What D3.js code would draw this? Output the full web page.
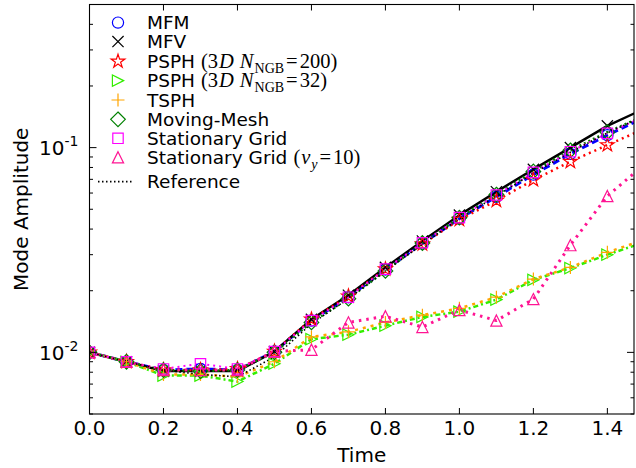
<!DOCTYPE html>
<html><head><meta charset="utf-8">
<script src="https://cdn.jsdelivr.net/npm/d3@7"></script>
<style>body{margin:0;background:#fff}svg{display:block}</style>
</head><body><svg id="c" width="636" height="468"></svg>
<script>
// ---- data ----
const times = [0.0,0.1,0.2,0.3,0.4,0.5,0.6,0.7,0.8,0.9,1.0,1.1,1.2,1.3,1.4,1.5];
const mfm      = [0.0100,0.0090,0.0082,0.0083,0.0082,0.0101,0.0143,0.0186,0.0254,0.0340,0.0450,0.0575,0.0738,0.0932,0.1150,0.1405];
const mfv      = [0.0100,0.0090,0.0081,0.0081,0.0081,0.0101,0.0145,0.0190,0.0260,0.0350,0.0468,0.0609,0.0783,0.1000,0.1277,0.1550];
const psph200  = [0.0100,0.0090,0.0082,0.0082,0.0083,0.0101,0.0145,0.0188,0.0255,0.0338,0.0445,0.0551,0.0695,0.0854,0.1030,0.1235];
const psph32   = [0.0100,0.0090,0.0077,0.0077,0.0072,0.0088,0.0116,0.0122,0.0135,0.0149,0.0158,0.0181,0.0226,0.0258,0.0300,0.0345];
const tsph     = [0.0100,0.0090,0.0078,0.0078,0.0076,0.0090,0.0119,0.0126,0.0140,0.0152,0.0164,0.0186,0.0228,0.0260,0.0308,0.0355];
const movmesh  = [0.0100,0.0090,0.0082,0.0081,0.0082,0.0100,0.0140,0.0183,0.0250,0.0342,0.0455,0.0590,0.0765,0.0970,0.1190,0.1430];
const statgrid = [0.0100,0.0090,0.0083,0.0088,0.0083,0.0101,0.0143,0.0186,0.0255,0.0343,0.0455,0.0587,0.0757,0.0955,0.1174,0.1420];
const statvy   = [0.0100,0.0090,0.0082,0.0082,0.0082,0.0101,0.0103,0.0140,0.0150,0.0133,0.0161,0.0143,0.0182,0.0334,0.0580,0.0827];
const reference= [0.0100,0.0090,0.0082,0.0078,0.0076,0.0095,0.0138,0.0183,0.0250,0.0337,0.0450,0.0580,0.0750,0.0950,0.1180,0.1430];
const xTicks = [0.0,0.2,0.4,0.6,0.8,1.0,1.2,1.4];
const yMajor = [0.01,0.1];
const yExp = ["-2","-1"];
const yMinor = [0.005,0.006,0.007,0.008,0.009,0.02,0.03,0.04,0.05,0.06,0.07,0.08,0.09,0.2,0.3,0.4,0.5];

// ---- layout ----
const L=89.5, R=634, T=4.5, B=414;
const svg = d3.select("#c");
const x = d3.scaleLinear().domain([0,1.472]).range([L,R]);
const y = d3.scaleLog().domain([0.005,0.5]).range([B,T]);

const series = [
  {label:"MFM", v:mfm, color:"#0000ff", dash:"7,4", w:3, m:"circle"},
  {label:"MFV", v:mfv, color:"#000000", dash:null, w:2.4, m:"x"},
  {label:"PSPH", math:"n200", v:psph200, color:"#ff0000", dash:"2,4", w:2.5, m:"star"},
  {label:"PSPH", math:"n32", v:psph32, color:"#33ee00", dash:"5,3,2,3", w:2.5, m:"tri_r"},
  {label:"TSPH", v:tsph, color:"#ffa500", dash:"3,5", w:2.5, m:"plus"},
  {label:"Moving-Mesh", v:movmesh, color:"#008000", dash:"2,3", w:2.5, m:"diamond"},
  {label:"Stationary Grid", v:statgrid, color:"#ff00ff", dash:"2,4", w:2, m:"square"},
  {label:"Stationary Grid", math:"vy", v:statvy, color:"#ff1493", dash:"2.5,5", w:3, m:"tri_u"},
  {label:"Reference", v:reference, color:"#000000", dash:"1.5,2.5", w:1.6, m:null}
];

function markerPath(m){
  const s=5.6;
  switch(m){
    case "circle": return d3.symbol(d3.symbolCircle, Math.PI*s*s)();
    case "x": return `M${-s},${-s}L${s},${s}M${-s},${s}L${s},${-s}`;
    case "plus": {const p=6.5; return `M${-p},0L${p},0M0,${-p}L0,${p}`;}
    case "square": {const q=5.2; return `M${-q},${-q}L${q},${-q}L${q},${q}L${-q},${q}Z`;}
    case "diamond": {const q=7.3; return `M0,${-q}L${q},0L0,${q}L${-q},0Z`;}
    case "tri_u": return `M0,${-s}L${s},${s}L${-s},${s}Z`;
    case "tri_r": return `M${s},0L${-s},${s}L${-s},${-s}Z`;
    case "star": {
      const Ro=7.2, Ri=Ro*0.382; let d="";
      for(let i=0;i<10;i++){const r=i%2?Ri:Ro; const a=-Math.PI/2+i*Math.PI/5;
        d+=(i?"L":"M")+(r*Math.cos(a)).toFixed(2)+","+(r*Math.sin(a)).toFixed(2);}
      return d+"Z";
    }
  }
  return "";
}

svg.append("defs").append("clipPath").attr("id","clip")
  .append("rect").attr("x",L).attr("y",T).attr("width",R-L).attr("height",B-T);

const plot = svg.append("g").attr("clip-path","url(#clip)");
const line = d3.line().x((d,i)=>x(times[i])).y(d=>y(d));

series.forEach(s=>{
  plot.append("path").attr("d",line(s.v)).attr("fill","none")
    .attr("stroke",s.color).attr("stroke-width",s.w)
    .attr("stroke-dasharray",s.dash).attr("stroke-linejoin","round");
});
series.forEach(s=>{
  if(!s.m) return;
  plot.selectAll(null).data(s.v.slice(0,15)).enter().append("path")
    .attr("d",markerPath(s.m))
    .attr("transform",(d,i)=>`translate(${x(times[i])},${y(d)})`)
    .attr("fill","none").attr("stroke",s.color).attr("stroke-width",1.2);
});

// ---- axes frame ----
svg.append("rect").attr("x",L).attr("y",T).attr("width",R-L).attr("height",B-T)
  .attr("fill","none").attr("stroke","#000").attr("stroke-width",1.1);

const ax = svg.append("g").attr("stroke","#000").attr("stroke-width",1);
xTicks.forEach(t=>{
  const px=x(t);
  ax.append("line").attr("x1",px).attr("x2",px).attr("y1",B).attr("y2",B-6);
  ax.append("line").attr("x1",px).attr("x2",px).attr("y1",T).attr("y2",T+6);
});
yMajor.forEach(v=>{
  const py=y(v);
  ax.append("line").attr("x1",L).attr("x2",L+7).attr("y1",py).attr("y2",py);
  ax.append("line").attr("x1",R).attr("x2",R-7).attr("y1",py).attr("y2",py);
});
yMinor.forEach(v=>{
  const py=y(v);
  ax.append("line").attr("x1",L).attr("x2",L+3.5).attr("y1",py).attr("y2",py);
  ax.append("line").attr("x1",R).attr("x2",R-3.5).attr("y1",py).attr("y2",py);
});

const font = "DejaVu Sans, sans-serif";
svg.append("g").selectAll("text").data(xTicks).enter().append("text")
  .attr("x",d=>x(d)).attr("y",435).attr("text-anchor","middle")
  .attr("font-family",font).attr("font-size",20).text(d=>d.toFixed(1));

yMajor.forEach((v,i)=>{
  const t = svg.append("text").attr("x",78.5).attr("y",y(v)+7.5).attr("text-anchor","end")
    .attr("font-family",font).attr("font-size",20);
  t.append("tspan").text("10");
  t.append("tspan").attr("font-size",14).attr("dy",-9).text(yExp[i]);
});

svg.append("text").attr("x",(L+R)/2).attr("y",462).attr("text-anchor","middle")
  .attr("font-family",font).attr("font-size",20).text("Time");
svg.append("text").attr("transform",`translate(28,${(T+B)/2}) rotate(-90)`)
  .attr("text-anchor","middle").attr("font-family",font).attr("font-size",20)
  .text("Mode Amplitude");

// ---- legend ----
const baselines = [29.3,48.3,68.0,87.3,106.7,126,145,164,188.3];
const lg = svg.append("g");
const mathFont = "Liberation Serif, serif";
series.forEach((s,i)=>{
  const by = baselines[i], cy = by-6.7;
  if(s.m){
    lg.append("path").attr("d",markerPath(s.m)).attr("transform",`translate(118,${cy})`)
      .attr("fill","none").attr("stroke",s.color).attr("stroke-width",1.2);
  } else {
    lg.append("line").attr("x1",98).attr("x2",134).attr("y1",cy).attr("y2",cy)
      .attr("stroke",s.color).attr("stroke-width",s.w).attr("stroke-dasharray",s.dash);
  }
  const t = lg.append("text").attr("x",147).attr("y",by).attr("font-family",font).attr("font-size",18.5);
  t.append("tspan").text(s.label);
  if(s.math){
    const ms = 20.5;
    if(s.math==="n200"||s.math==="n32"){
      t.append("tspan").attr("dx",6).attr("font-family",mathFont).attr("font-size",ms).text("(3");
      t.append("tspan").attr("dx",1).attr("font-family",mathFont).attr("font-style","italic").attr("font-size",ms).text("D");
      t.append("tspan").attr("dx",6).attr("font-family",mathFont).attr("font-style","italic").attr("font-size",ms).text("N");
      t.append("tspan").attr("dy",4.5).attr("dx",1).attr("font-family",mathFont).attr("font-size",14).text("NGB");
      t.append("tspan").attr("dy",-4.5).attr("dx",2).attr("font-family",mathFont).attr("font-size",ms).text("=");
      t.append("tspan").attr("dx",2).attr("font-family",mathFont).attr("font-size",ms).text(s.math==="n200"?"200)":"32)");
    } else {
      t.append("tspan").attr("dx",6).attr("font-family",mathFont).attr("font-size",ms).text("(");
      t.append("tspan").attr("dx",1).attr("font-family",mathFont).attr("font-style","italic").attr("font-size",ms).text("v");
      t.append("tspan").attr("dy",4.5).attr("dx",1).attr("font-family",mathFont).attr("font-style","italic").attr("font-size",14).text("y");
      t.append("tspan").attr("dy",-4.5).attr("dx",2).attr("font-family",mathFont).attr("font-size",ms).text("=");
      t.append("tspan").attr("dx",2).attr("font-family",mathFont).attr("font-size",ms).text("10)");
    }
  }
});
</script></body></html>
